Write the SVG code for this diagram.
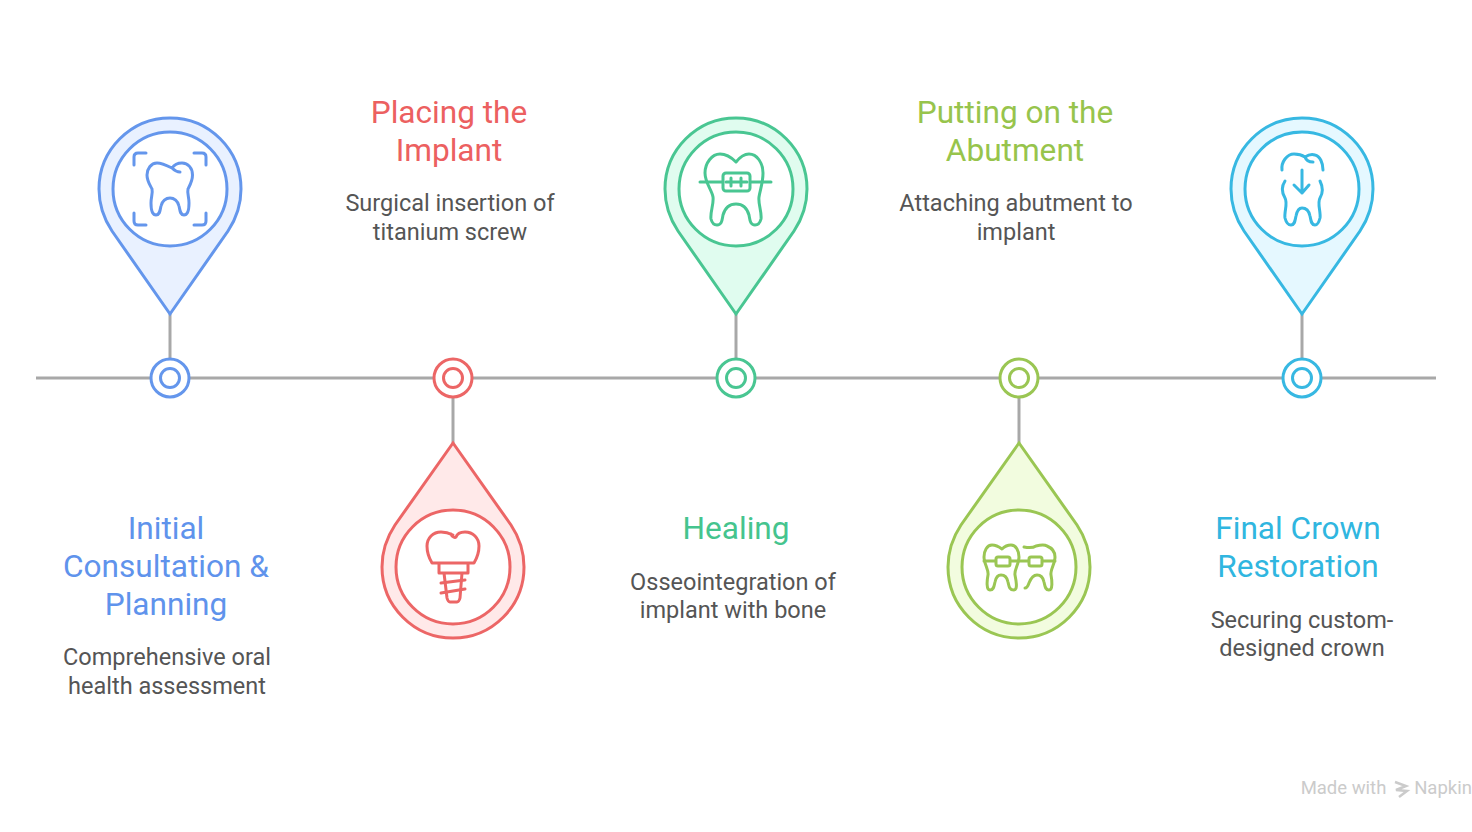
<svg xmlns="http://www.w3.org/2000/svg" width="1472" height="832" viewBox="0 0 1472 832">
<style>
text{font-family:Roboto,"Liberation Sans",sans-serif;text-anchor:middle}
.t{font-size:31.600px}
.d{font-size:23.500px;fill:#555}
.i{fill:none;stroke-width:3;stroke-linecap:round;stroke-linejoin:round}
.w{fill:#fff;stroke-width:3}
.conn{stroke:#a8a8a8;stroke-width:3;fill:none}
.blue{stroke:#6496ec}.blueF{fill:#e9f1ff}.blueT{fill:#5f93ec}
.red{stroke:#ec6666}.redF{fill:#ffe9e9}.redT{fill:#ec6060}
.green{stroke:#49c692}.greenF{fill:#e0fcef}.greenT{fill:#45c48e}
.lime{stroke:#9ac653}.limeF{fill:#f2fcdf}.limeT{fill:#97c44c}
.cyan{stroke:#37b8e2}.cyanF{fill:#e5f8ff}.cyanT{fill:#30b6e0}
.wm{font-size:18.500px;fill:#cbcbcb}
</style>
<defs>
<path id="pinUp" d="M0 125L-58 42C-66 30 -71 16 -71 0A71 71 0 0 1 71 0C71 16 66 30 58 42Z"/>
<path id="pinDown" d="M0 -124L-58 -42C-66 -30 -71 -16 -71 0A71 71 0 0 0 71 0C71 -16 66 -30 58 -42Z"/>
</defs>
<rect width="1472" height="832" fill="#fff"/>
<g id="connectors" class="conn">
<path d="M36 378H1436"/>
<path d="M170 314V360"/>
<path d="M453 396V443"/>
<path d="M736 314V360"/>
<path d="M1019 396V443"/>
<path d="M1302 314V360"/>
</g>
<g id="node-1">
<use href="#pinUp" x="170" y="189" class="blue blueF" stroke-width="3"/>
<circle cx="170" cy="189" r="57" class="w blue"/>
<g class="i blue">
<path d="M172 168C166 165 162 163 157 163C151 163 147 169 147 175C147 181 150 185 152 189C153 193 151 197 151 203C151 208 152 215 156 215C160 215 160 210 161 206C162 201 166 198 170 198C174 198 178 201 179 206C180 210 180 215 184 215C188 215 189 208 189 203C189 197 187 193 188 189C190 185 192.500 181 192.500 175C192.500 168 188 163 182 163C177 163 174 165 172 168C175 171 177 172 180 172"/>
<path d="M134 165V157Q134 153 138 153H146M194 153H202Q206 153 206 157V165M134 213V221Q134 225 138 225H146M194 225H202Q206 225 206 221V213"/>
</g>
<circle cx="170" cy="378" r="19" class="w blue"/>
<circle cx="170" cy="378" r="9.500" class="w blue"/>
<text class="t blueT" x="166" y="539">Initial</text>
<text class="t blueT" x="166" y="577">Consultation &amp;</text>
<text class="t blueT" x="166" y="615">Planning</text>
<text class="d" x="167" y="665">Comprehensive oral</text>
<text class="d" x="167" y="694">health assessment</text>
</g>
<g id="node-2">
<use href="#pinDown" x="453" y="567" class="red redF" stroke-width="3"/>
<circle cx="453" cy="567" r="57" class="w red"/>
<g class="i red">
<path d="M453 535C449 533 446 532 441 532C433 532 427 538 427 546C427 552 429 558 432 563H474C477 558 479 552 479 546C479 538 473 532 465 532C460 532 457 534 456 537C455 538 452 537 451 534"/>
<path d="M439 564V573H468V564M444 573L447 598Q448 602 450 602H457Q459 602 460 598L462 573"/>
<path d="M441 583L465 580M441 593L465 589"/>
</g>
<circle cx="453" cy="378" r="19" class="w red"/>
<circle cx="453" cy="378" r="9.500" class="w red"/>
<text class="t redT" x="449" y="123">Placing the</text>
<text class="t redT" x="449" y="161">Implant</text>
<text class="d" x="450" y="211">Surgical insertion of</text>
<text class="d" x="450" y="240">titanium screw</text>
</g>
<g id="node-3">
<use href="#pinUp" x="736" y="189" class="green greenF" stroke-width="3"/>
<circle cx="736" cy="189" r="57" class="w green"/>
<g class="i green">
<path d="M736 162C731 157 726 154 720 154C712 154 705 163 705 173C705 183 712 190 713 197C714 204 710 212 711 219C712 223 714 225 717 225C722 225 722 220 723 215C725 208 729 204 736 204C743 204 747 208 749 215C750 220 750 225 755 225C758 225 760 223 761 219C762 212 758 204 759 197C760 190 763 183 763 173C763 163 757 154 749 154C744 154 740 157 736 162Z"/>
<path d="M700 182H723M750 182H771"/>
<rect x="723" y="173" width="27" height="18" rx="3" fill="#fff"/>
<path d="M731 178V186M741 178V186M726 182H747"/>
</g>
<circle cx="736" cy="378" r="19" class="w green"/>
<circle cx="736" cy="378" r="9.500" class="w green"/>
<text class="t greenT" x="736" y="539">Healing</text>
<text class="d" x="733" y="590">Osseointegration of</text>
<text class="d" x="733" y="618">implant with bone</text>
</g>
<g id="node-4">
<use href="#pinDown" x="1019" y="567" class="lime limeF" stroke-width="3"/>
<circle cx="1019" cy="567" r="57" class="w lime"/>
<g class="i lime">
<path d="M1002 549C998 546 995 545 992 545C987 545 984 551 984 557C984 564 989 570 988 575C987 580 986 590 990 590C994 590 994 586 995 582C996 577 998 575 1001 575C1005 575 1007 577 1008 582C1009 586 1009 590 1014 590C1018 590 1016 580 1015 575C1014 570 1019 564 1019 557C1019 551 1016 545 1011 545C1008 545 1005 546 1002 549Z"/>
<path d="M1024 547C1029 548 1033 548 1036 546C1040 545 1044 544 1047 546C1052 548 1055 552 1055 557C1055 564 1050 570 1051 575C1052 580 1053 590 1049 590C1045 590 1045 586 1044 582C1043 577 1041 575 1037 575C1033 575 1031 578 1029 583C1028 586 1027 588 1025 588"/>
<path d="M984 561H1055"/>
<rect x="996" y="557" width="14" height="9" rx="2" fill="#fff"/>
<rect x="1029" y="557" width="13" height="9" rx="2" fill="#fff"/>
</g>
<circle cx="1019" cy="378" r="19" class="w lime"/>
<circle cx="1019" cy="378" r="9.500" class="w lime"/>
<text class="t limeT" x="1015" y="123">Putting on the</text>
<text class="t limeT" x="1015" y="161">Abutment</text>
<text class="d" x="1016" y="211">Attaching abutment to</text>
<text class="d" x="1016" y="240">implant</text>
</g>
<g id="node-5">
<use href="#pinUp" x="1302" y="189" class="cyan cyanF" stroke-width="3"/>
<circle cx="1302" cy="189" r="57" class="w cyan"/>
<g class="i cyan">
<path d="M1282 170C1281 162 1287 154 1294 154C1298 154 1302 155 1305 157C1308 155 1312 154 1315 155C1320 156 1323 163 1323 170"/>
<path d="M1305 157C1306 160 1309 162 1313 162"/>
<path d="M1285 181C1281 187 1282 193 1285 198C1288 203 1284 212 1285 218C1286 222 1288 225 1291 225C1295 225 1295 220 1296 216C1297 211 1299 208 1302 208C1306 208 1309 211 1310 216C1311 220 1311 225 1315 225C1318 225 1319 222 1320 218C1321 212 1317 203 1320 198C1323 193 1323 187 1320 181"/>
<path d="M1302 170V193M1294 185L1302 193L1309 185"/>
</g>
<circle cx="1302" cy="378" r="19" class="w cyan"/>
<circle cx="1302" cy="378" r="9.500" class="w cyan"/>
<text class="t cyanT" x="1298" y="539">Final Crown</text>
<text class="t cyanT" x="1298" y="577">Restoration</text>
<text class="d" x="1302" y="628">Securing custom-</text>
<text class="d" x="1302" y="656">designed crown</text>
</g>
<g id="watermark">
<text class="wm" x="1343.500" y="794">Made with</text>
<path d="M1395 782L1406 786L1396 790L1407 791L1399 797" fill="none" stroke="#cbcbcb" stroke-width="2.500"/>
<text class="wm" x="1443" y="794">Napkin</text>
</g>
</svg>
